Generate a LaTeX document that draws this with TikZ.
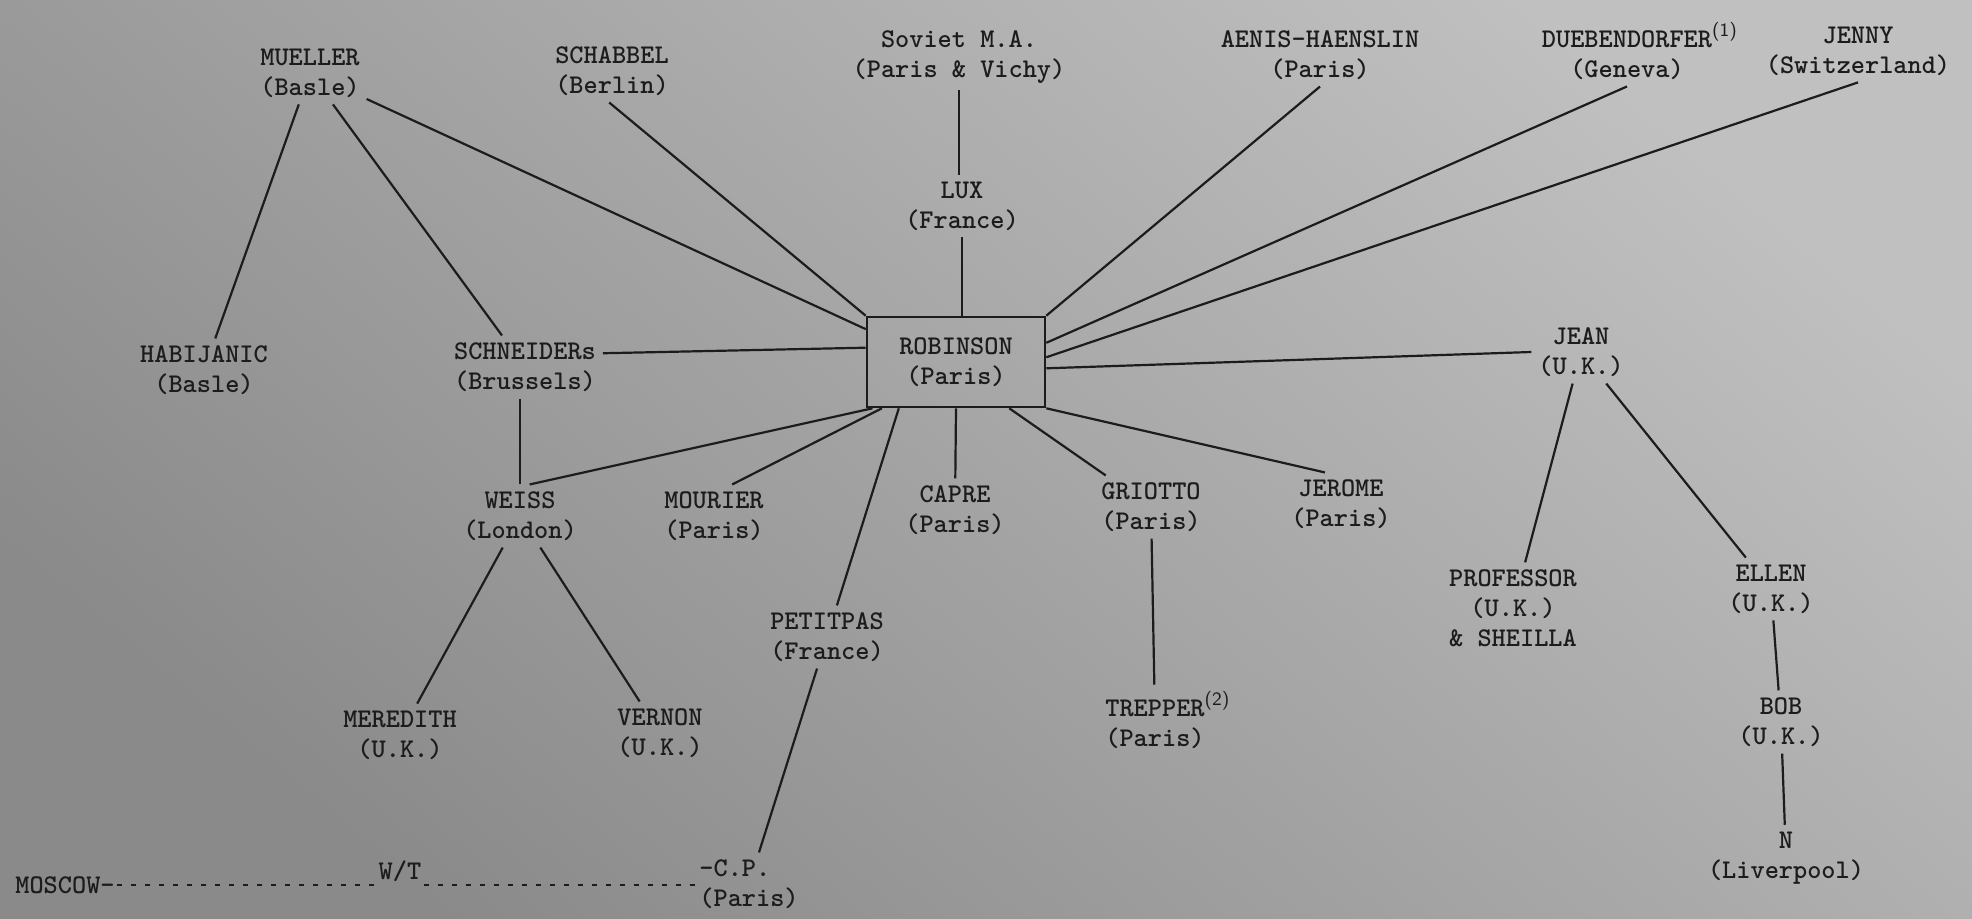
\documentclass[tikz,border=0pt]{standalone}
\usepackage{amsmath}
\usepackage{tikz}

\definecolor{ink}{RGB}{28,28,28}
\definecolor{paperlt}{RGB}{192,192,192}
\definecolor{paperdk}{RGB}{138,138,138}

\tikzset{
agent/.style={align=center,text=ink,font=\ttfamily\bfseries\fontsize{13.5}{15}\selectfont},
hub/.style={agent,draw=ink,line width=1.3pt,minimum width=89pt,minimum height=45pt},
typed/.style={agent,inner xsep=1pt},
link/.style={draw=ink,line width=1.1pt},
wire/.style={draw=ink,line width=1.1pt,dash pattern=on 2.5pt off 4.5pt}
}

\begin{document}
\begin{tikzpicture}[x=0.5pt,y=-0.5pt]

\shade[top color=paperlt,bottom color=paperdk,shading angle=-40] (0,0) rectangle (1972,919);
\useasboundingbox (0,0) rectangle (1972,919);

\node[agent] (mueller) at (310,73) {MUELLER\\(Basle)};
\node[agent] (schabbel) at (612,71) {SCHABBEL\\(Berlin)};
\node[agent] (soviet) at (959,57) {Soviet M.A.\\(Paris \& Vichy)};
\node[agent] (aenis) at (1320,55) {AENIS-HAENSLIN\\(Paris)};
\node[agent] (dueb) at (1627,51) {DUEBENDORFER\rlap{\textsuperscript{\sffamily\mdseries(1)}}\\(Geneva)};
\node[agent] (jenny) at (1858,51) {JENNY\\(Switzerland)};
\node[agent] (lux) at (962,206) {LUX\\(France)};

\node[hub] (robinson) at (956,362) {ROBINSON\\(Paris)};

\node[agent] (habijanic) at (204,370) {HABIJANIC\\(Basle)};
\node[agent] (schneiders) at (525,367) {SCHNEIDERs\\(Brussels)};
\node[agent] (jean) at (1581,352) {JEAN\\(U.K.)};

\node[agent] (weiss) at (520,516) {WEISS\\(London)};
\node[agent] (mourier) at (714,516) {MOURIER\\(Paris)};
\node[agent] (capre) at (955,510) {CAPRE\\(Paris)};
\node[agent] (griotto) at (1151,507) {GRIOTTO\\(Paris)};
\node[agent] (jerome) at (1341,504) {JEROME\\(Paris)};

\node[agent] (professor) at (1513,608) {PROFESSOR\\(U.K.)\\\& SHEILLA};
\node[agent] (ellen) at (1771,589) {ELLEN\\(U.K.)};
\node[agent] (petitpas) at (827,637) {PETITPAS\\(France)};

\node[agent] (meredith) at (400,735) {MEREDITH\\(U.K.)};
\node[agent] (vernon) at (660,733) {VERNON\\(U.K.)};
\node[agent] (trepper) at (1155,720) {TREPPER\rlap{\textsuperscript{\sffamily\mdseries(2)}}\\(Paris)};
\node[agent] (bob) at (1781,722) {BOB\\(U.K.)};
\node[agent] (liverpool) at (1786,858) {N\\(Liverpool)};

\node[typed] (moscow) at (65,885) {MOSCOW-};
\node[typed] (wt) at (400,871) {W/T};
\node[typed,align=left,anchor=west] (cp) at (697,884) {-C.P.\\(Paris)};

\foreach \a/\b in {mueller/habijanic, mueller/schneiders, mueller/robinson.160,
    schabbel.-95/robinson.north west, aenis.south/robinson.north east,
    dueb.south/robinson.12, jenny.south/robinson.3,
    jean.west/robinson.-4, schneiders.10/robinson.171}
    \draw[link] (\a) -- (\b);

\draw[link] (soviet) -- (soviet |- lux.north);
\draw[link] (lux) -- (lux |- robinson.north);
\draw[link] (weiss) -- (weiss |- schneiders.south);

\foreach \b/\a in {weiss.73/robinson.209, mourier.60/robinson.212, petitpas/robinson.219,
    capre/robinson.south, griotto/robinson.319, jerome.117/robinson.south east}
    \draw[link] (\a) -- (\b);

\foreach \a/\b in {griotto/trepper, jean/professor, jean/ellen, weiss/meredith,
    weiss/vernon, petitpas/cp, ellen/bob, bob/liverpool}
    \draw[link] (\a) -- (\b);

\draw[wire] (moscow.east) -- (moscow.east -| wt.west);
\draw[wire] (wt.east |- moscow.east) -- (moscow.east -| cp.west);

\end{tikzpicture}
\end{document}
